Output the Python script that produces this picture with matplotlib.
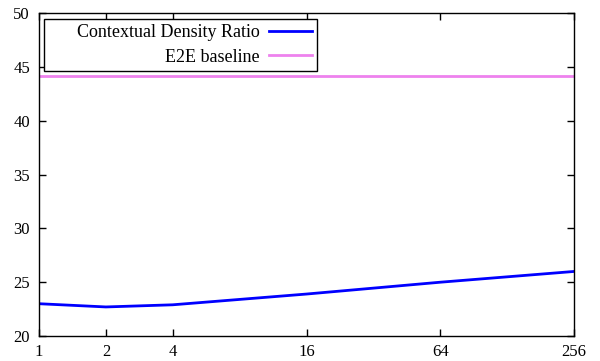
import numpy as np
import matplotlib.pyplot as plt

plt.rcParams['font.family'] = ['Liberation Serif', 'DejaVu Serif']

# context sizes (log2 axis)
context = [1, 2, 4, 16, 64, 256]
density_ratio = [23.0, 22.7, 22.9, 23.9, 25.0, 26.0]
e2e_baseline = 44.2

fig = plt.figure(figsize=(6, 3.61), dpi=100)
ax = fig.add_axes([0.065, 0.0693, 0.8917, 0.8937])

ax.plot(context, density_ratio, color='#0000ff', lw=2,
        label='      Contextual Density Ratio')
ax.axhline(e2e_baseline, color='#ee82ee', lw=2, label='E2E baseline')

ax.set_xscale('log', base=2)
ax.set_xlim(1, 256)
ax.set_ylim(20, 50)
ax.set_xticks(context)
ax.set_xticklabels([str(c) for c in context])
ax.minorticks_off()
ax.set_yticks(np.arange(20, 51, 5))

ax.tick_params(direction='in', top=True, right=True, length=5, width=1,
               labelsize=12)
ax.tick_params(axis='x', pad=5.5)
ax.tick_params(axis='y', pad=6.5)
for s in ax.spines.values():
    s.set_linewidth(1)

leg = ax.legend(loc='upper left', markerfirst=False, fontsize=13,
                fancybox=False, framealpha=1, edgecolor='black',
                handlelength=2.4, handletextpad=0.5, labelspacing=0.42,
                borderpad=0.3, borderaxespad=0.3)
leg.get_frame().set_linewidth(1)

fig.savefig('out.png', dpi=100)
